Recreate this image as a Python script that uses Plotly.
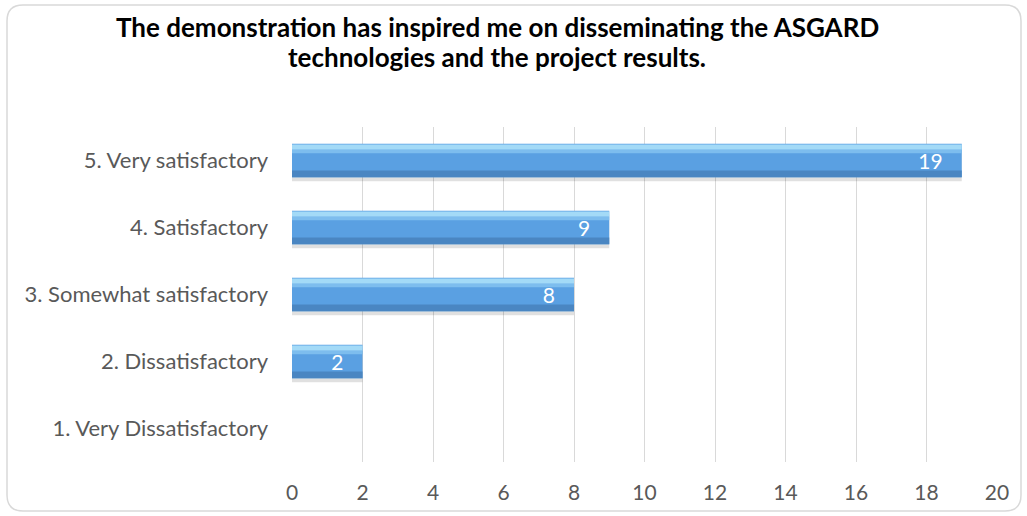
import plotly.graph_objects as go

categories = ["1. Very Dissatisfactory", "2. Dissatisfactory", "3. Somewhat satisfactory",
              "4. Satisfactory", "5. Very satisfactory"]
counts = [0, 2, 8, 9, 19]
x_ticks = [0, 2, 4, 6, 8, 10, 12, 14, 16, 18, 20]

title_lines = ["The demonstration has inspired me on disseminating the ASGARD",
               "technologies and the project results."]

W, H = 1027, 516
L, R, T, B = 292, 30, 127, 54
pw, ph = W - L - R, H - T - B
FONT = "Lato, Carlito, sans-serif"
PAD = "\u00a0" * 3

fig = go.Figure()

BAR_W = 0.5
# soft drop shadow under each bar
fig.add_trace(go.Bar(
    y=categories, x=counts, orientation="h", width=BAR_W, offset=-BAR_W / 2 - 0.06,
    marker=dict(color="rgba(0,0,0,0.12)", line=dict(width=0)),
    hoverinfo="skip", showlegend=False))
# main bar body with its value label near the end
fig.add_trace(go.Bar(
    y=categories, x=counts, orientation="h", width=BAR_W, offset=-BAR_W / 2,
    marker=dict(color="#5AA0E2", line=dict(width=0)),
    text=[f"{v}{PAD}" if v else "" for v in counts], textposition="inside",
    insidetextanchor="end", textangle=0, constraintext="none",
    textfont=dict(color="white", size=21, family=FONT),
    hoverinfo="skip", showlegend=False))
# darker lower edge
fig.add_trace(go.Bar(
    y=categories, x=counts, orientation="h", width=0.1, offset=-BAR_W / 2,
    marker=dict(color="#4A86C2", line=dict(width=0)),
    hoverinfo="skip", showlegend=False))
# light upper highlight
fig.add_trace(go.Bar(
    y=categories, x=counts, orientation="h", width=0.08, offset=BAR_W / 2 - 0.09,
    marker=dict(color="#A3DAF7", line=dict(width=0)),
    hoverinfo="skip", showlegend=False))
fig.add_trace(go.Bar(
    y=categories, x=counts, orientation="h", width=0.05, offset=BAR_W / 2 - 0.14,
    marker=dict(color="#7DBDEE", line=dict(width=0)),
    hoverinfo="skip", showlegend=False))

fig.update_layout(barmode="overlay")

# rounded chart frame in paper coordinates
x0 = (7 - L) / pw
x1 = (1021 - L) / pw
y1 = (H - B - 5) / ph
y0 = (H - B - 511) / ph
rx, ry = 16 / pw, 16 / ph
path = (f"M {x0 + rx},{y1} L {x1 - rx},{y1} Q {x1},{y1} {x1},{y1 - ry} "
        f"L {x1},{y0 + ry} Q {x1},{y0} {x1 - rx},{y0} L {x0 + rx},{y0} "
        f"Q {x0},{y0} {x0},{y0 + ry} L {x0},{y1 - ry} Q {x0},{y1} {x0 + rx},{y1} Z")
fig.add_shape(type="path", path=path, xref="paper", yref="paper",
              line=dict(color="#D9D9D9", width=1.5), layer="below")

# two-line bold title
for line, ypix in zip(title_lines, [27, 57]):
    fig.add_annotation(text=line, xref="paper", yref="paper",
                       x=(497 - L) / pw, y=(H - B - ypix) / ph,
                       xanchor="center", yanchor="middle", showarrow=False,
                       font=dict(family=FONT, size=26, color="black", weight="bold"))

fig.update_layout(
    width=W, height=H,
    margin=dict(l=L, r=R, t=T, b=B),
    paper_bgcolor="white", plot_bgcolor="white",
    xaxis=dict(range=[0, 20], tickvals=x_ticks, showgrid=True, gridcolor="#D9D9D9", gridwidth=1,
               zeroline=False, showline=False, ticks="",
               tickfont=dict(family=FONT, size=21, color="#595959"),
               ticklabelstandoff=16),
    yaxis=dict(categoryorder="array", categoryarray=categories, showgrid=False,
               zeroline=False, showline=False, ticks="", ticklabelstandoff=23,
               tickfont=dict(family=FONT, size=22, color="#595959")),
)

fig.write_html("out.html")
